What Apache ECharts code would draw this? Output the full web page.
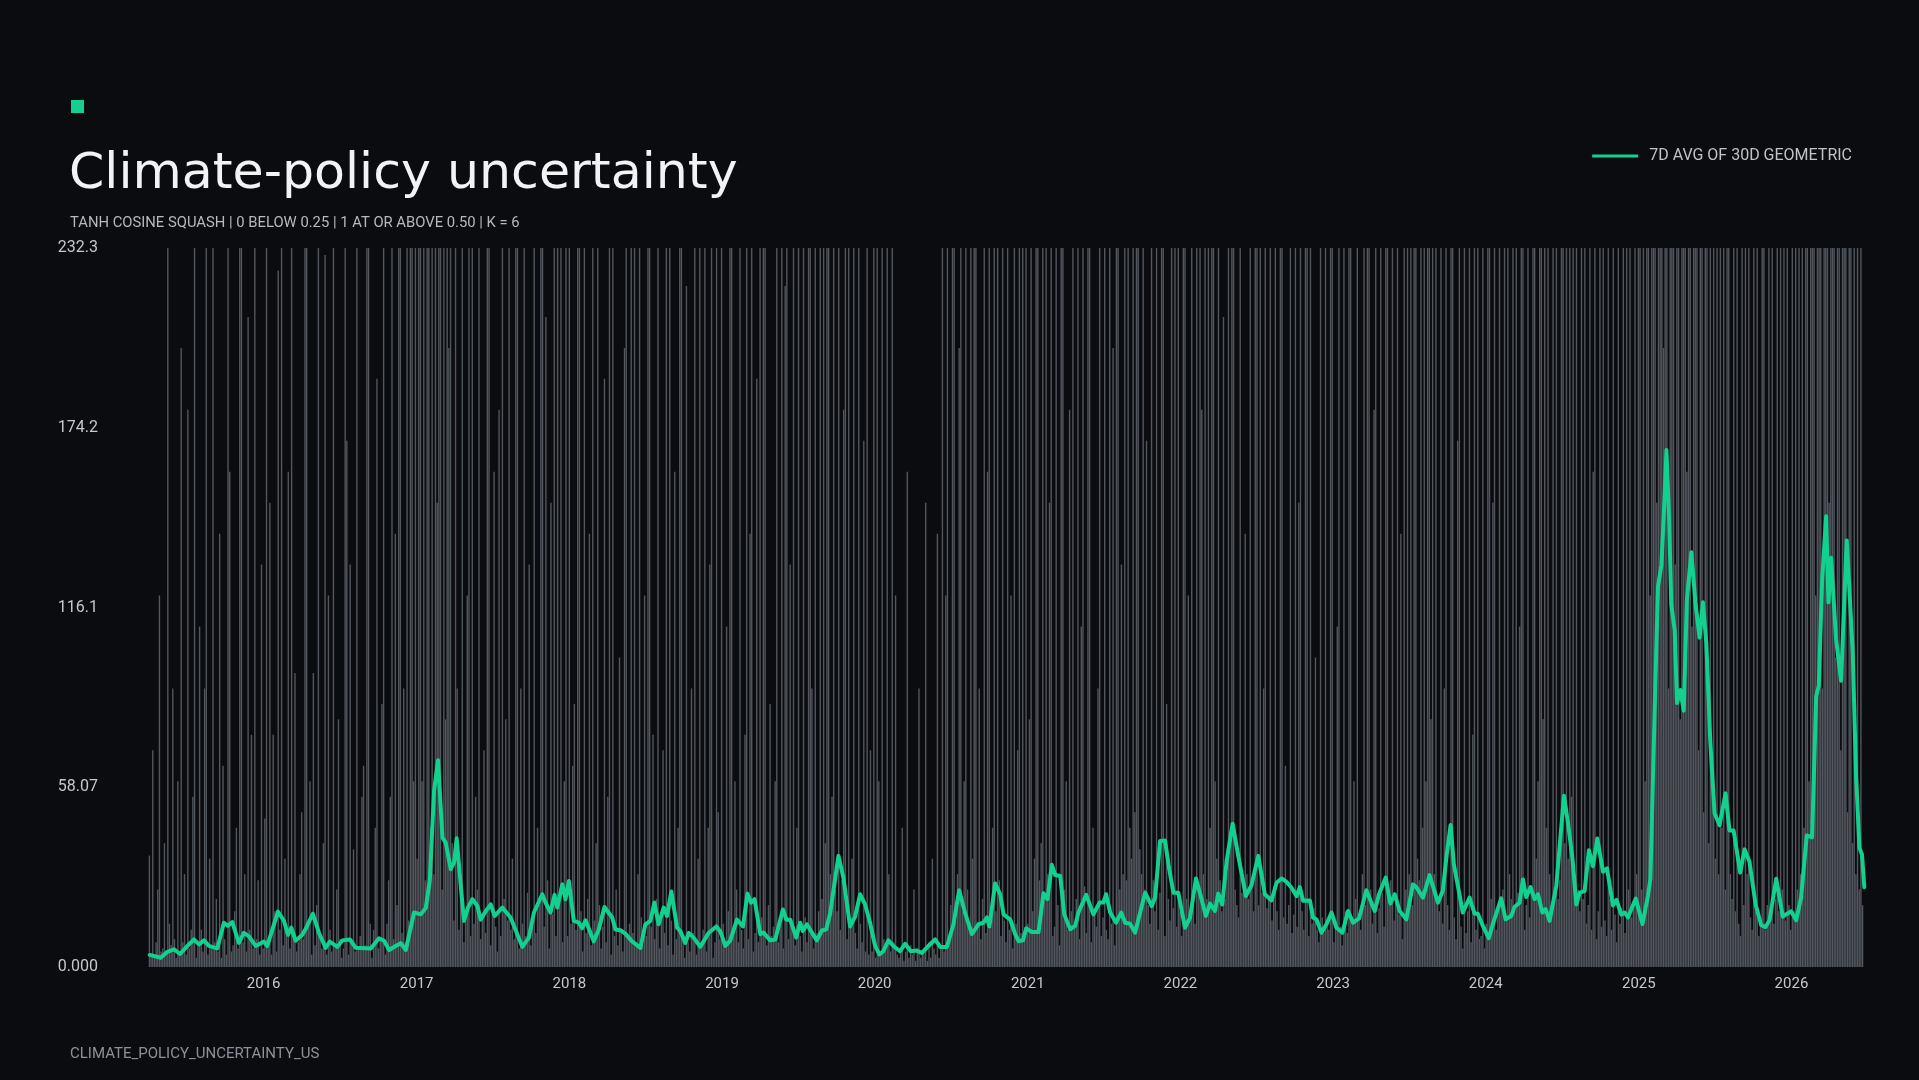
<!DOCTYPE html>
<html>
<head>
<meta charset="utf-8">
<script src="https://cdn.jsdelivr.net/npm/echarts@6/dist/echarts.min.js"></script>
<style>
html,body{margin:0;padding:0;background:#0b0c0f;}
#chart{width:1919px;height:1080px;}
</style>
</head>
<body>
<div id="chart"></div>
<script>
// ---------- DATA ----------
const titleText = 'Climate-policy uncertainty';
const subtitleText = 'TANH COSINE SQUASH | 0 BELOW 0.25 | 1 AT OR ABOVE 0.50 | K = 6';
const footerText = 'CLIMATE_POLICY_UNCERTAINTY_US';
const lineName = '7D AVG OF 30D GEOMETRIC';

const xMinYear = 2015.254;
const xMaxYear = 2026.477;
const yTicks = [0, 58.07, 116.14, 174.21, 232.28];

// raw index, one value per 4 days starting 2015-04-03
const rawStart = '2015-04-03';
const rawStepDays = 4;
const raw2015 = [36,4,70,3,8,25,120,5,6,40, 5,400,14,7,90,9,3,60,5,200, 8,30,4,180,6,12,55,400,3,7,
 110,12,5,90,400,4,35,6,400,8, 22,5,140,3,65,9,4,400,160,5, 7,18,45,6,400,400,8,30,5,210, 12,75,6,400,9,28,4,130];
const raw2016 = [6,48,400,9,150,4,75,18,5,225, 12,400,7,35,10,160,6,400,11,95, 5,8,30,50,9,400,400,13,60,4,
 95,7,20,400,10,6,40,230,4,120, 12,5,400,7,25,80,9,3,6,400, 170,4,130,8,38,5,400,6,10,55,
 65,7,400,400,14,3,12,45,190,6, 9,85,400,4,14,28,55,400,9,140, 20,400,400,11,90,8,400,15,400,400, 60];
const raw2017 = [400,35,400,400,60,400,28,400,400,45, 400,30,400,150,400,400,25,400,80,400, 200,400,40,15,400,90,12,30,400,8,
 18,120,400,10,400,14,55,25,400,9, 16,70,11,400,400,7,20,160,13,5, 180,10,400,22,80,15,400,12,35,9,
 400,400,6,90,14,400,10,24,130,7, 16,400,11,45,20,400,400,13,210,28, 6,150,17,400,10,400,22,400,8,60, 400];
const raw2018 = [10,400,14,65,85,12,400,400,18,5, 400,11,22,140,7,400,15,40,400,20, 6,13,190,8,55,400,4,400,10,25,
 7,100,12,5,200,400,9,14,400,11, 400,8,30,400,16,7,120,10,400,400, 13,75,9,22,400,6,18,70,11,400,
 7,400,15,4,160,9,45,400,400,10, 3,220,8,5,90,11,400,4,35,400, 6,12,400,5,45,130,400,3,8,400, 50];
const raw2019 = [9,400,14,7,110,18,400,400,10,60, 25,8,400,12,6,75,400,9,140,400, 5,11,190,8,400,16,400,400,7,20,
 85,10,13,60,400,8,15,400,6,220, 400,9,130,14,400,7,45,400,10,5, 400,16,8,400,400,90,6,400,11,18,
 400,22,400,40,400,400,30,55,400,25, 18,400,12,28,180,400,9,400,15,35, 400,11,6,400,14,8,170,5,400,4, 70];
const raw2020 = [5,400,3,400,60,4,400,9,6,400, 30,5,400,8,120,4,3,6,45,2, 5,160,3,7,4,25,2,6,90,3,
 5,4,150,2,8,3,35,6,4,140, 3,7,400,5,120,400,8,20,400,400, 15,30,200,400,18,60,400,25,12,400,
 35,400,400,14,90,9,22,400,11,160, 400,13,45,400,18,400,28,10,400,15, 8,400,12,120,6,400,14,70,400,11, 400];
const raw2021 = [10,400,14,80,400,18,35,400,400,28, 40,400,22,400,30,150,400,10,13,400, 20,7,400,400,25,60,12,180,18,400,
 14,22,400,9,110,400,26,11,400,400, 8,45,19,13,90,400,10,16,400,12, 9,400,14,200,7,400,400,25,130,30,
 400,28,400,45,35,400,50,400,400,38, 30,400,25,170,20,14,400,28,18,400, 12,24,400,400,10,85,22,15,400,19, 400];
const raw2022 = [13,400,18,10,400,400,22,120,15,400, 20,14,400,25,400,180,30,400,22,400, 45,400,400,60,35,400,28,18,210,22,
 30,400,40,400,400,25,20,16,400,24, 28,140,30,22,400,26,18,400,400,20, 400,24,90,400,19,22,400,15,26,400,
 18,12,400,400,16,65,14,20,400,11, 17,400,13,150,400,18,12,400,400,10, 400,14,19,100,12,8,400,16,11,400, 13];
const raw2023 = [12,400,400,8,15,110,400,13,7,400, 18,11,400,400,14,60,22,400,16,12, 30,400,20,400,400,25,14,180,400,11,
 19,400,24,13,400,400,20,28,400,15, 22,400,17,140,9,400,25,400,30,400, 20,400,400,35,28,400,45,400,60,400,
 400,80,400,30,400,22,18,400,14,90, 400,20,12,400,400,16,9,170,400,13, 6,400,11,18,400,8,75,400,12,400, 9];
const raw2024 = [10,400,6,14,400,400,22,150,400,12, 18,400,20,25,400,16,400,30,22,400, 18,400,24,110,400,400,12,20,400,16,
 26,400,400,35,60,400,400,80,400,45, 400,30,20,400,26,400,22,28,400,400, 40,400,35,400,55,400,30,400,25,18,
 400,22,400,14,20,400,12,160,400,9, 18,400,13,400,15,10,400,22,12,400, 17,8,400,14,19,400,11,400,25,400, 16];
const raw2025 = [20,400,30,400,400,25,400,60,400,400, 120,400,400,400,150,400,400,400,200,400, 400,90,400,400,400,130,400,400,80,400,
 400,400,160,400,400,110,400,400,400,70, 400,400,50,400,400,40,400,60,400,35, 400,30,400,45,400,25,400,400,30,22,
 400,18,400,14,10,400,20,400,30,400, 16,12,400,18,400,10,15,400,400,12, 20,400,16,400,14,22,400,18,400,25, 400];
const raw2026 = [15,400,20,12,400,18,400,25,400,30, 400,45,400,400,60,400,400,400,120,400, 400,400,90,400,400,400,150,400,400,400,
 100,400,400,70,400,400,400,50,400,400, 40,400,30,400,25,400,20];

// 7-day average of 30-day geometric mean (decimal year, value)
const lineYears = [
 2015.254,2015.326,2015.370,2015.413,2015.453,2015.511,2015.544,2015.577,2015.610,2015.642,
 2015.697,2015.740,2015.767,2015.795,2015.838,2015.871,2015.904,2015.948,2016.002,2016.024,
 2016.094,2016.133,2016.159,2016.181,2016.209,2016.253,2016.279,2016.322,2016.362,2016.405,
 2016.432,2016.482,2016.515,2016.564,2016.602,2016.700,2016.754,2016.787,2016.820,2016.863,
 2016.896,2016.929,2016.983,2017.027,2017.060,2017.086,2017.114,2017.140,2017.169,2017.190,
 2017.223,2017.245,2017.262,2017.288,2017.310,2017.336,2017.365,2017.398,2017.419,2017.452,
 2017.485,2017.511,2017.561,2017.615,2017.659,2017.692,2017.735,2017.768,2017.823,2017.844,
 2017.877,2017.903,2017.921,2017.954,2017.975,2017.997,2018.029,2018.062,2018.084,2018.106,
 2018.160,2018.193,2018.230,2018.281,2018.302,2018.335,2018.368,2018.411,2018.466,2018.498,
 2018.531,2018.557,2018.585,2018.618,2018.640,2018.668,2018.706,2018.727,2018.760,2018.782,
 2018.814,2018.858,2018.912,2018.963,2018.989,2019.022,2019.054,2019.098,2019.137,2019.167,
 2019.190,2019.213,2019.251,2019.272,2019.316,2019.349,2019.399,2019.421,2019.447,2019.486,
 2019.512,2019.530,2019.556,2019.589,2019.621,2019.654,2019.682,2019.708,2019.763,2019.795,
 2019.839,2019.872,2019.905,2019.937,2019.970,2020.003,2020.031,2020.057,2020.090,2020.122,
 2020.166,2020.199,2020.236,2020.275,2020.308,2020.351,2020.395,2020.428,2020.472,2020.515,
 2020.552,2020.591,2020.635,2020.678,2020.711,2020.733,2020.750,2020.787,2020.820,2020.842,
 2020.886,2020.918,2020.940,2020.969,2020.990,2021.027,2021.071,2021.103,2021.129,2021.158,
 2021.180,2021.213,2021.239,2021.278,2021.311,2021.332,2021.383,2021.430,2021.470,2021.496,
 2021.513,2021.540,2021.579,2021.612,2021.638,2021.670,2021.703,2021.769,2021.812,2021.834,
 2021.867,2021.899,2021.927,2021.954,2021.986,2022.030,2022.063,2022.102,2022.133,2022.167,
 2022.194,2022.226,2022.248,2022.274,2022.303,2022.342,2022.379,2022.429,2022.466,2022.510,
 2022.553,2022.597,2022.630,2022.663,2022.695,2022.728,2022.761,2022.782,2022.804,2022.848,
 2022.869,2022.891,2022.924,2022.957,2022.990,2023.022,2023.061,2023.098,2023.131,2023.170,
 2023.218,2023.273,2023.301,2023.345,2023.375,2023.404,2023.436,2023.480,2023.523,2023.545,
 2023.589,2023.632,2023.687,2023.719,2023.742,2023.770,2023.791,2023.850,2023.894,2023.927,
 2023.948,2023.981,2024.020,2024.046,2024.101,2024.130,2024.167,2024.188,2024.221,2024.243,
 2024.265,2024.293,2024.319,2024.341,2024.370,2024.391,2024.417,2024.461,2024.511,2024.537,
 2024.566,2024.592,2024.614,2024.646,2024.674,2024.700,2024.729,2024.766,2024.792,2024.831,
 2024.854,2024.886,2024.908,2024.929,2024.980,2025.024,2025.060,2025.076,2025.093,2025.115,
 2025.126,2025.148,2025.163,2025.181,2025.198,2025.213,2025.235,2025.250,2025.272,2025.294,
 2025.315,2025.344,2025.372,2025.398,2025.420,2025.442,2025.468,2025.496,2025.529,2025.568,
 2025.594,2025.621,2025.664,2025.693,2025.725,2025.765,2025.802,2025.830,2025.856,2025.900,
 2025.943,2025.998,2026.031,2026.063,2026.100,2026.135,2026.162,2026.179,2026.201,2026.227,
 2026.242,2026.260,2026.292,2026.325,2026.362,2026.401,2026.423,2026.445,2026.462,2026.477];
const lineValues = [
 3.9,3.0,4.9,5.7,4.2,7.3,8.9,7.3,8.6,6.8,
 6.0,14.3,13.3,14.5,7.8,11.0,9.9,6.8,8.2,6.8,
 17.9,14.9,10.4,12.7,8.5,10.4,12.7,17.2,11.0,6.2,
 8.2,6.5,8.6,8.9,6.2,6.0,9.3,8.5,5.5,6.8,
 7.7,5.5,17.6,17.0,19.1,28.0,56.9,66.8,41.8,40.2,
 31.6,33.7,41.6,26.7,14.9,19.2,21.9,19.7,15.3,18.0,
 20.2,16.5,19.2,16.0,10.6,6.5,9.5,17.6,23.5,20.8,
 17.6,23.3,19.2,26.7,21.9,27.8,14.9,14.3,12.5,15.1,
 8.3,12.1,19.4,16.0,12.1,11.9,10.7,8.3,6.2,13.8,
 14.9,20.8,13.8,19.2,16.5,24.4,12.7,11.6,7.8,11.0,
 9.5,6.5,11.0,13.1,11.5,6.8,8.5,15.3,13.1,23.7,
 20.8,21.9,10.6,11.1,8.6,8.9,18.6,15.3,15.3,9.5,
 14.3,11.6,13.8,11.1,8.6,11.8,12.1,17.2,35.9,28.9,
 13.1,16.3,23.5,20.2,14.3,6.8,4.1,5.1,8.6,6.8,
 5.1,7.5,5.1,5.3,4.5,6.8,8.9,6.5,6.5,13.8,
 24.8,17.4,10.6,13.8,14.3,16.0,13.1,27.0,23.5,17.0,
 15.3,10.6,8.4,8.6,12.5,11.3,11.3,23.8,21.9,33.0,
 29.7,29.4,17.0,12.2,13.3,17.6,23.3,17.0,20.8,20.8,
 23.5,17.6,14.3,17.6,14.3,14.0,11.1,24.0,19.7,22.4,
 40.7,40.9,31.5,24.0,24.0,12.7,15.9,28.6,22.9,16.5,
 20.5,18.1,23.7,20.2,34.3,46.3,35.9,22.9,26.5,35.9,
 23.5,21.5,27.2,28.6,27.5,25.6,22.9,25.8,21.4,21.5,
 15.9,15.4,11.1,13.8,17.6,12.7,11.1,18.1,14.3,15.7,
 24.8,18.1,23.5,28.9,20.5,23.5,18.1,15.4,26.7,25.8,
 22.4,29.7,20.8,24.6,35.3,45.9,33.2,17.6,22.4,17.2,
 17.2,13.3,9.3,13.8,22.2,15.4,16.5,19.4,20.8,28.3,
 22.6,25.8,21.9,23.5,17.6,18.7,14.9,26.2,55.3,46.7,
 35.3,20.2,24.0,24.5,37.7,32.6,41.5,30.8,31.9,19.9,
 21.7,16.9,17.6,16.0,22.1,13.9,23.0,28.5,61.9,104.2,
 123.1,129.8,145.4,167.0,145.4,117.0,108.7,85.3,89.5,82.8,
 118.7,134.0,117.0,106.4,117.8,104.7,73.1,49.7,45.8,56.1,
 44.1,44.1,30.5,38.0,34.0,20.2,13.5,12.9,15.1,28.5,
 16.3,18.0,15.1,22.4,42.5,41.9,87.5,90.9,125.4,145.6,
 117.8,132.2,105.9,92.5,137.8,102.0,61.9,38.5,36.3,25.8];

// ---------- BUILD ----------
function yearToTs(y){
  const Y = Math.floor(y);
  const a = Date.UTC(Y,0,1), b = Date.UTC(Y+1,0,1);
  return a + (y - Y) * (b - a);
}
const rawValues = [].concat(raw2015, raw2016, raw2017, raw2018, raw2019, raw2020,
  raw2021, raw2022, raw2023, raw2024, raw2025, raw2026);
const rawT0 = Date.parse(rawStart + 'T00:00:00Z');
const rawData = rawValues.map((v, i) => [rawT0 + i * rawStepDays * 86400000, v]);
const lineData = lineYears.map((y, i) => [yearToTs(y), lineValues[i]]);

const GREEN = '#12d18e';
const chart = echarts.init(document.getElementById('chart'), null, {renderer: 'canvas'});
chart.setOption({
  backgroundColor: '#0b0c0f',
  animation: false,
  useUTC: true,
  grid: {left: 149, right: 54, top: 248, bottom: 113, containLabel: false},
  legend: {
    data: [lineName], right: 62, top: 143, icon: 'rect', itemWidth: 46, itemHeight: 3,
    textStyle: {color: '#c0c3c8', fontSize: 16, fontFamily: 'Roboto', padding: [0,0,0,6]}
  },
  graphic: [
    {type: 'rect', left: 71, top: 100, shape: {width: 13, height: 13}, style: {fill: GREEN}},
    {type: 'text', x: 69, y: 175, style: {text: titleText, fill: '#f2f3f5', font: '50.6px "DejaVu Sans"', verticalAlign: 'middle'}},
    {type: 'text', x: 70, y: 223, style: {text: subtitleText, fill: '#b5b9c0', font: '14.8px Roboto', verticalAlign: 'middle'}},
    {type: 'text', x: 70, y: 1054, style: {text: footerText, fill: '#8d929a', font: '15px Roboto', verticalAlign: 'middle'}}
  ],
  xAxis: {
    type: 'time', min: yearToTs(xMinYear), max: yearToTs(xMaxYear),
    minInterval: 365 * 86400000, splitNumber: 11,
    axisLine: {show: false}, axisTick: {show: false}, splitLine: {show: false},
    axisLabel: {color: '#c4c7cc', fontSize: 15, fontFamily: 'Roboto', margin: 10,
      formatter: v => String(new Date(v).getUTCFullYear()), showMinLabel: false, showMaxLabel: false}
  },
  yAxis: {
    type: 'value', min: yTicks[0], max: yTicks[yTicks.length-1], interval: yTicks[1],
    axisLine: {show: false}, axisTick: {show: false}, splitLine: {show: false},
    axisLabel: {color: '#c4c7cc', fontSize: 16, fontFamily: 'Roboto', margin: 51,
      formatter: v => Number(v).toPrecision(4)}
  },
  series: [
    {type: 'bar', name: 'raw', data: rawData, barWidth: 1.4, itemStyle: {color: '#52565d'}, z: 1, silent: true},
    {type: 'line', name: lineName, data: lineData, showSymbol: false, symbol: 'none', z: 3,
     itemStyle: {color: GREEN},
     lineStyle: {color: GREEN, width: 4, cap: 'round', join: 'round'}}
  ]
});
</script>
</body>
</html>
